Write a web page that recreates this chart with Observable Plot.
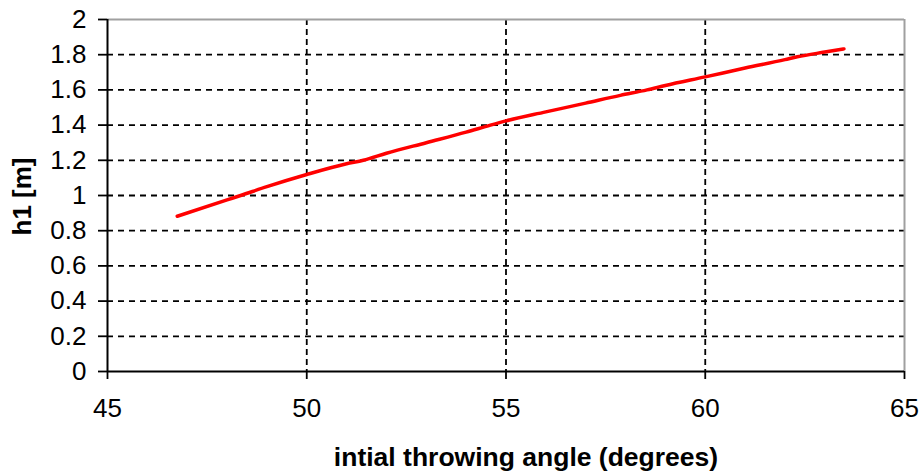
<!DOCTYPE html>
<html>
<head>
<meta charset="utf-8">
<script src="https://cdn.jsdelivr.net/npm/d3@7"></script>
<script src="https://cdn.jsdelivr.net/npm/@observablehq/plot@0.6"></script>
<style>
  html, body { margin: 0; padding: 0; background: #fff; }
  #chart svg { display: block; }
</style>
</head>
<body>
<div id="chart"></div>
<script>
// Launch angle (degrees) and resulting height h1 (m)
const angle = [46.75, 48, 48.34, 49, 50, 51, 51.42, 52, 53, 54, 54.61, 55, 56, 57, 57.87, 58.54, 59, 60, 61, 62, 62.31, 63, 63.48];
const h1    = [0.882, 0.975, 1.0, 1.05, 1.119, 1.18, 1.2, 1.24, 1.30, 1.36, 1.40, 1.424, 1.475, 1.525, 1.569, 1.60, 1.625, 1.674, 1.724, 1.772, 1.788, 1.815, 1.833];

const xTicks = [45, 50, 55, 60, 65];
const yTicks = [0, 0.2, 0.4, 0.6, 0.8, 1, 1.2, 1.4, 1.6, 1.8, 2];

const xLabel = "intial throwing angle (degrees)";
const yLabel = "h1 [m]";

const data = angle.map((a, i) => ({angle: a, h1: h1[i]}));

const gridY = yTicks.filter(d => d > 0 && d < 2);
const gridX = xTicks.filter(d => d > 45 && d < 65);

const chart = Plot.plot({
  width: 919,
  height: 472,
  marginLeft: 107,
  marginRight: 15,
  marginTop: 19,
  marginBottom: 101,
  style: {
    fontFamily: "'Liberation Sans', Arial, sans-serif",
    fontSize: "26px",
    color: "#000",
    background: "#fff"
  },
  x: {domain: [45, 65]},
  y: {domain: [0, 2]},
  marks: [
    // dashed grid
    Plot.ruleY(gridY, {stroke: "#000", strokeWidth: 1.8, strokeDasharray: "6,5"}),
    Plot.ruleX(gridX, {stroke: "#000", strokeWidth: 1.8, strokeDasharray: "6,4"}),
    // grey frame on top and right
    Plot.ruleY([2], {stroke: "#a0a0a0", strokeWidth: 2}),
    Plot.ruleX([65], {stroke: "#a0a0a0", strokeWidth: 2}),
    // axes
    Plot.axisX({ticks: xTicks, tickSize: 8, tickPadding: 19, label: null, strokeWidth: 1.8, fontSize: 26, tickFormat: d => String(d)}),
    Plot.axisY({ticks: yTicks, tickSize: 9, tickPadding: 12, label: null, strokeWidth: 1.8, fontSize: 26, tickFormat: d => String(d)}),
    Plot.ruleX([45], {stroke: "#000", strokeWidth: 2}),
    Plot.ruleY([0], {stroke: "#000", strokeWidth: 2}),
    // data series
    Plot.line(data, {x: "angle", y: "h1", stroke: "#ff0000", strokeWidth: 3.5, curve: "monotone-x"}),
    // axis titles
    Plot.text([xLabel], {frameAnchor: "bottom", dx: 20, dy: 86.5, text: d => d, fontWeight: "bold", fontSize: 26.5, lineAnchor: "middle", textAnchor: "middle", fill: "#000"}),
    Plot.text([yLabel], {frameAnchor: "left", dx: -85, dy: 1, rotate: -90, text: d => d, fontWeight: "bold", fontSize: 26, lineAnchor: "middle", textAnchor: "middle", fill: "#000"})
  ]
});

document.getElementById("chart").appendChild(chart);
</script>
</body>
</html>
